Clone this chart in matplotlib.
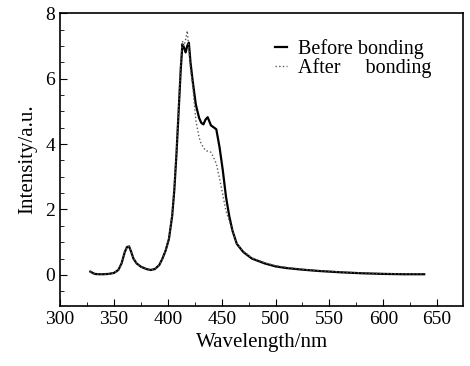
import numpy as np
import matplotlib
matplotlib.use("Agg")
import matplotlib.pyplot as plt
from matplotlib.ticker import MultipleLocator

plt.rcParams['font.family'] = ['Liberation Serif', 'DejaVu Serif']

# wavelength grid (nm)
wavelength = [328, 332, 336, 340, 345, 350, 354, 357, 360, 362, 364, 366, 368, 371,
              375, 380, 384, 388, 392, 395, 398, 401, 404, 406, 408, 410, 412, 413.5,
              415, 416.5, 418, 419.5, 421, 423, 426, 429, 431, 433, 435, 437, 440,
              443, 445, 448, 451, 454, 457, 460, 464, 470, 478, 490, 500, 510, 525,
              540, 560, 580, 600, 620, 638]

before_bonding = [0.10, 0.03, 0.02, 0.02, 0.03, 0.06, 0.15, 0.35, 0.70, 0.85, 0.87, 0.70,
                  0.50, 0.35, 0.25, 0.18, 0.15, 0.18, 0.30, 0.50, 0.75, 1.10, 1.80, 2.60,
                  3.70, 5.00, 6.30, 7.05, 6.95, 6.80, 7.00, 7.10, 6.50, 5.94, 5.20, 4.80,
                  4.65, 4.60, 4.75, 4.82, 4.57, 4.50, 4.45, 3.90, 3.20, 2.38, 1.80, 1.35,
                  0.95, 0.70, 0.50, 0.35, 0.26, 0.21, 0.16, 0.12, 0.08, 0.05, 0.03, 0.02,
                  0.02]

after_bonding = [0.10, 0.03, 0.02, 0.02, 0.03, 0.06, 0.15, 0.35, 0.70, 0.85, 0.87, 0.70,
                 0.50, 0.35, 0.25, 0.18, 0.15, 0.18, 0.30, 0.50, 0.75, 1.12, 1.85, 2.70,
                 3.80, 5.10, 6.50, 7.15, 7.00, 7.20, 7.46, 6.90, 6.30, 5.80, 4.72, 4.20,
                 4.00, 3.90, 3.80, 3.78, 3.75, 3.55, 3.40, 2.95, 2.45, 1.95, 1.65, 1.35,
                 0.97, 0.72, 0.52, 0.37, 0.28, 0.23, 0.17, 0.13, 0.09, 0.06, 0.04, 0.03,
                 0.03]

x_ticks = [300, 350, 400, 450, 500, 550, 600, 650]
y_ticks = [0, 2, 4, 6, 8]

fig = plt.figure(figsize=(4.7, 3.66), dpi=100)
ax = fig.add_axes([0.128, 0.164, 0.857, 0.8])

ax.plot(wavelength, before_bonding, color='black', lw=1.6, label='Before bonding')
ax.plot(wavelength, after_bonding, color='0.35', lw=1.0, ls=':', label='After     bonding')

ax.set_xlim(300, 674)
ax.set_ylim(-0.95, 8)
ax.set_xticks(x_ticks)
ax.set_yticks(y_ticks)
ax.xaxis.set_minor_locator(MultipleLocator(25))
ax.yaxis.set_minor_locator(MultipleLocator(0.5))
ax.tick_params(which='both', direction='in', top=False, right=False, labelsize=14)
ax.tick_params(which='major', length=5)
ax.tick_params(which='minor', length=3)
for sp in ax.spines.values():
    sp.set_linewidth(1.2)

ax.set_xlabel('Wavelength/nm', fontsize=15, labelpad=4)
ax.set_ylabel('Intensity/a.u.', fontsize=15, labelpad=6)

ax.legend(loc='upper left', bbox_to_anchor=(0.533, 0.911), frameon=False,
          fontsize=14.5, handlelength=0.6, handletextpad=0.55,
          borderpad=0, borderaxespad=0, labelspacing=-0.05)

fig.savefig('out.png', dpi=100)
